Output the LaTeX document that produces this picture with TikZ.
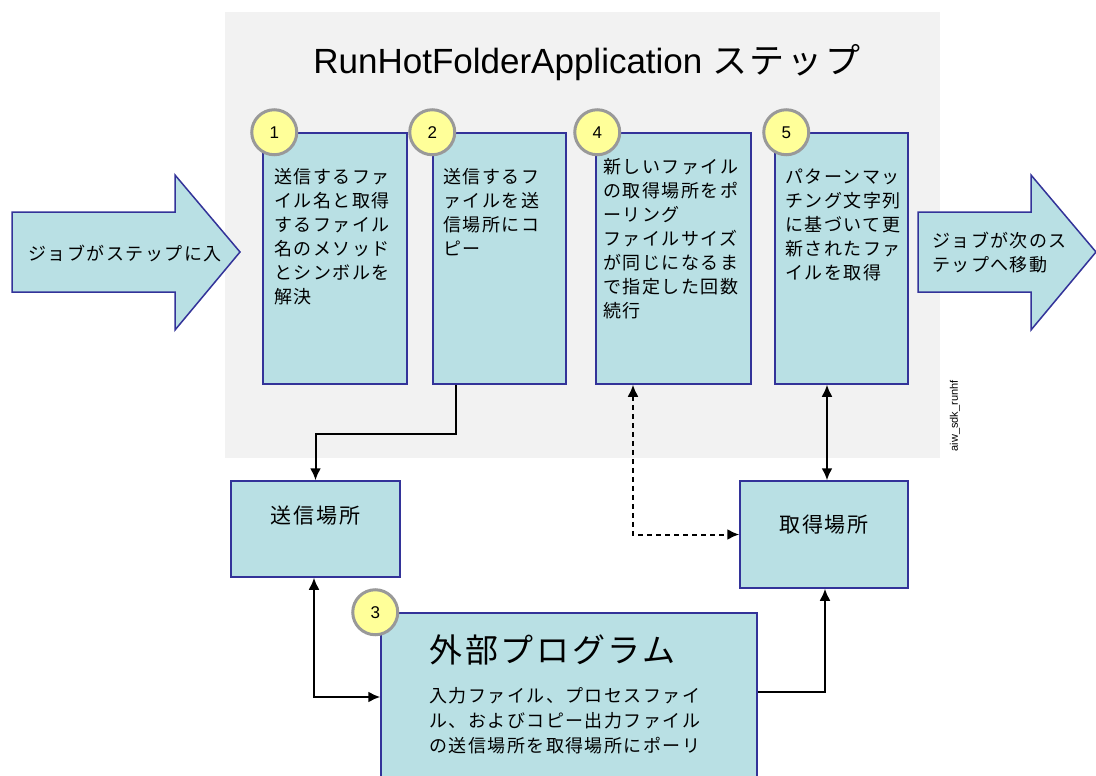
\documentclass[tikz,border=0pt]{standalone}
\usepackage{fontspec}
\setmainfont{Liberation Sans}
\newfontfamily\jp[LetterSpace=8]{Noto Sans CJK JP}
\usetikzlibrary{positioning,arrows.meta}
\definecolor{boxfill}{HTML}{B9E0E4}
\definecolor{boxline}{HTML}{333399}
\definecolor{bggray}{HTML}{F2F2F2}
\definecolor{numfill}{HTML}{FFFF99}
\definecolor{numline}{HTML}{999999}
\tikzset{
  stepbox/.style={draw=boxline,fill=boxfill,line width=1.5pt,inner sep=0pt,minimum height=251pt},
  steptext/.style={font=\jp\fontsize{18}{24}\selectfont,align=left,inner sep=0pt,anchor=north west},
  num/.style={circle,draw=numline,fill=numfill,line width=3pt,minimum size=45pt,inner sep=0pt,font=\fontsize{17}{17}\selectfont},
  blockarrow/.style={draw=boxline,fill=boxfill,line width=1.5pt},
  link/.style={line width=2pt}
}
\begin{document}
\begin{tikzpicture}[x=1pt,y=-1pt,>={Latex[length=12pt,width=11pt]}]
\clip (0,0) rectangle (1096,776);
\fill[white] (0,0) rectangle (1096,776);
\fill[bggray] (225,12) rectangle (940,458);
\node (title) [font=\fontsize{35}{35}\selectfont,inner sep=0pt] at (587,63) {RunHotFolderApplication {\jp ステップ}};

\draw[blockarrow] (12,212) -- (175,212) -- (175,175) -- (240,252) -- (175,330) -- (175,292) -- (12,292) -- cycle;
\node (enter) [font=\jp\fontsize{18}{24}\selectfont,inner sep=0pt] at (125,253) {ジョブがステップに入};
\draw[blockarrow] (918,212) -- (1031,212) -- (1031,175) -- (1096,252) -- (1031,330) -- (1031,292) -- (918,292) -- cycle;
\node (leave) [steptext] at (932,232) {ジョブが次のス\\テップへ移動};

\node (step1) [stepbox,minimum width=144pt] at (335,258.5) {};
\node (step2) [stepbox,minimum width=133pt] at (499.5,258.5) {};
\node (step4) [stepbox,minimum width=155pt] at (673.5,258.5) {};
\node (step5) [stepbox,minimum width=133pt] at (841.5,258.5) {};
\node (step1txt) [steptext,below right=36pt and 12pt of step1.north west] {送信するファ\\イル名と取得\\するファイル\\名のメソッド\\とシンボルを\\解決};
\node (step2txt) [steptext,below right=36pt and 11pt of step2.north west] {送信するフ\\ァイルを送\\信場所にコ\\ピー};
\node (step4txt) [steptext,below right=26pt and 8pt of step4.north west] {新しいファイル\\の取得場所をポ\\ーリング\\ファイルサイズ\\が同じになるま\\で指定した回数\\続行};
\node (step5txt) [steptext,below right=36pt and 11pt of step5.north west] {パターンマッ\\チング文字列\\に基づいて更\\新されたファ\\イルを取得};

\node (send) [stepbox,minimum width=169pt,minimum height=96pt,font=\jp\fontsize{21}{21}\selectfont,text height=12pt,text depth=24pt] at (315.5,529) {送信場所};
\node (fetch) [stepbox,minimum width=168pt,minimum height=107pt,font=\jp\fontsize{21}{21}\selectfont,text height=12pt,text depth=17pt] at (824,534.5) {取得場所};
\node (ext) [stepbox,minimum width=376pt,minimum height=187pt] at (569,706.5) {};
\node (exttitle) [steptext,font=\jp\fontsize{33}{33}\selectfont,below right=22pt and 49pt of ext.north west] {外部プログラム};
\node (exttxt) [steptext,font=\jp\fontsize{18}{25}\selectfont,below right=75pt and 49pt of ext.north west] {入力ファイル、プロセスファイ\\ル、およびコピー出力ファイル\\の送信場所を取得場所にポーリ};

\node (n1) [num] at ([xshift=12pt]step1.north west) {1};
\node (n2) [num] at (step2.north west) {2};
\node (n4) [num] at ([xshift=2pt]step4.north west) {4};
\node (n5) [num] at ([xshift=12pt]step5.north west) {5};
\node (n3) [num] at ([xshift=-5pt]ext.north west) {3};

\begin{scope}[link]
  \draw [->] ([xshift=-43.5pt]step2.south) -- ++(0,49) -| (send.north);
  \draw [<->] ([xshift=-1.5pt]send.south) |- ([yshift=9.5pt]ext.west);
  \draw [<->,dash pattern=on 5pt off 4pt] ([xshift=-40.5pt]step4.south) |- (fetch.west);
  \draw [<->] ([xshift=-14.5pt]step5.south) -- ([xshift=3pt]fetch.north);
  \draw [->] ([yshift=14.5pt]ext.east) -| ([xshift=1pt]fetch.south);
\end{scope}

\node (tag) [rotate=90,font=\fontsize{11}{11}\selectfont,inner sep=0pt] at (955,416) {aiw\_sdk\_runhf};
\end{tikzpicture}
\end{document}
